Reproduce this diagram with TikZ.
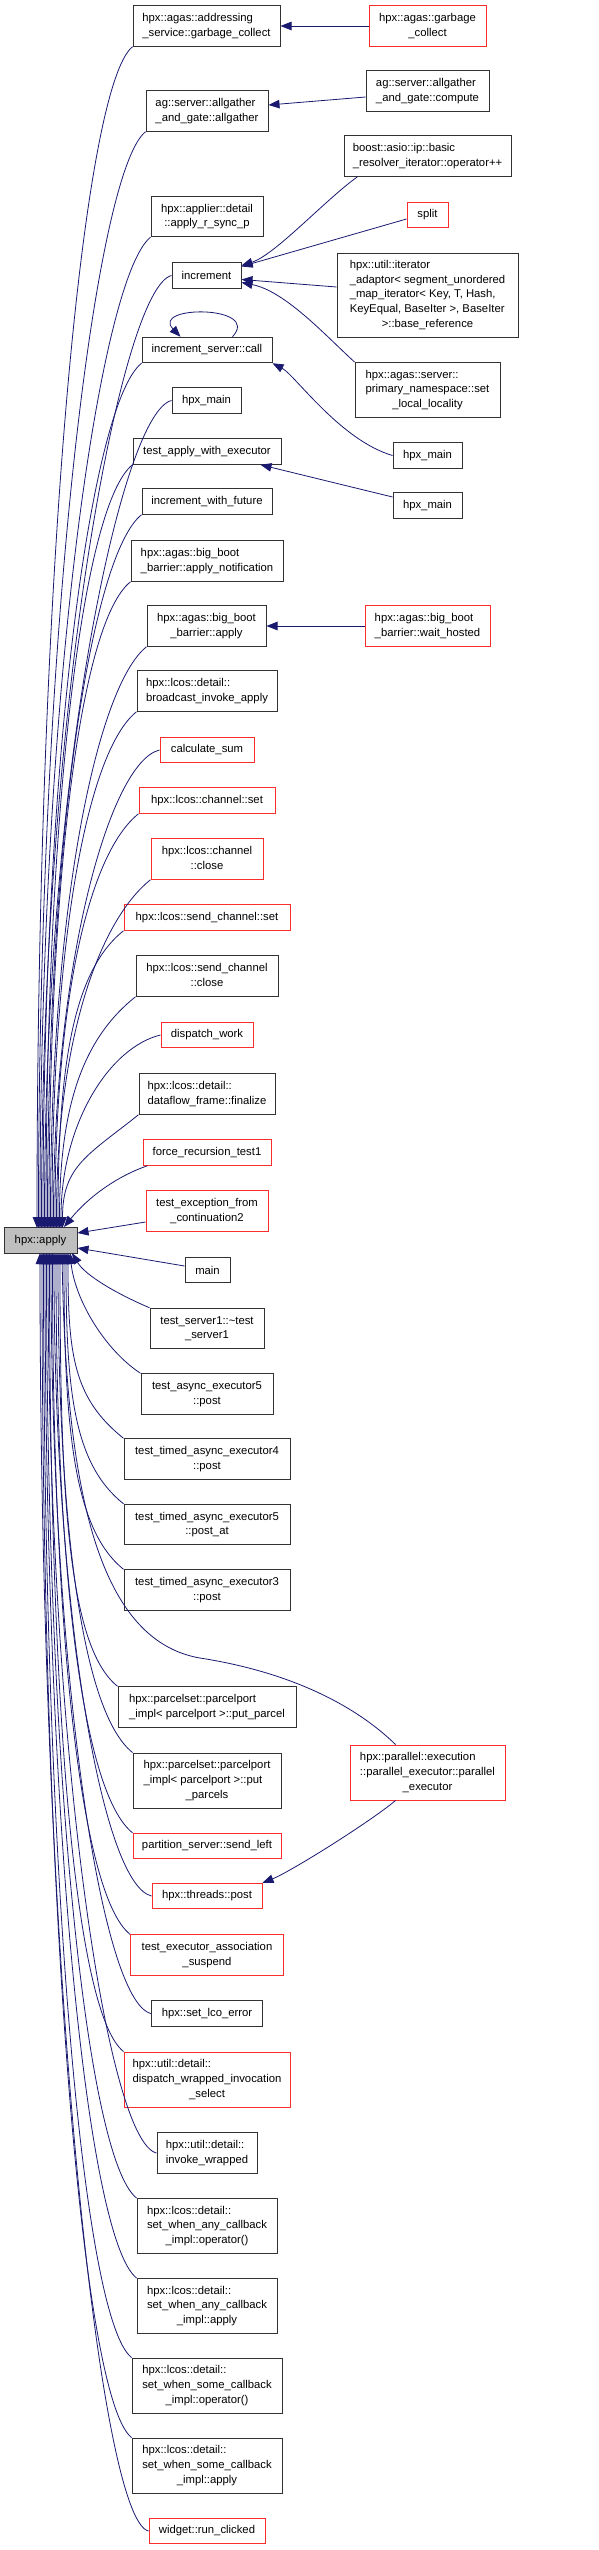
\documentclass[tikz,border=0pt]{standalone}
\usepackage{fontspec}
\setmainfont{Liberation Sans}
\usepackage{tikz}
\usetikzlibrary{arrows.meta,calc}
\usepackage{xcolor}
\definecolor{edgeblue}{RGB}{25,25,112}
\definecolor{nodered}{RGB}{250,45,45}
\definecolor{nodeline}{RGB}{50,50,50}
\definecolor{rootgray}{RGB}{191,191,191}
% left-aligned lines, last one centred (doxygen label)
\newcommand{\fnlabel}[2]{\begin{tabular}{@{}l@{}}#1\\\multicolumn{1}{@{}c@{}}{#2}\end{tabular}}

\begin{document}
\begin{tikzpicture}[x=1pt,y=1pt,>={Triangle[length=11pt,width=8.5pt]},
  fn/.style={draw=nodeline,line width=1pt,fill=white,inner xsep=2pt,inner ysep=2pt,
             minimum height=25.5pt,minimum width=#1,
             font=\fontsize{11.3pt}{14.7pt}\selectfont},
  fnr/.style={fn=#1,draw=nodered},
  twoline/.style={minimum height=40.5pt},
  threeline/.style={minimum height=55pt},
  call/.style={<-,draw=edgeblue,line width=0.8pt}]

  \useasboundingbox (0,0) rectangle (599,-2550);

  % ── callers, middle column ───────────────────────────────────────
  \node[fn=147pt,twoline] (gcs) at (206.5,-26)
    {\fnlabel{hpx::agas::addressing}{\_service::garbage\_collect}};
  \node[fn=122pt,twoline] (allg) at (207,-111)
    {\fnlabel{ag::server::allgather}{\_and\_gate::allgather}};
  \node[fn=112pt,twoline] (applyr) at (207,-216.5)
    {\fnlabel{hpx::applier::detail}{::apply\_r\_sync\_p}};
  \node[fn=69pt] (incr) at (206.5,-275.5) {increment};
  \node[fn=130pt] (incsrv) at (207,-350) {increment\_server::call};
  \node[fn=69pt] (hpxmain1) at (206.5,-400.5) {hpx\_main};
  \node[fn=148pt] (tawe) at (207,-451.5) {test\_apply\_with\_executor};
  \node[fn=130pt] (incfut) at (207,-501.5) {increment\_with\_future};
  \node[fn=152pt,twoline] (applynot) at (207,-561)
    {\fnlabel{hpx::agas::big\_boot}{\_barrier::apply\_notification}};
  \node[fn=119pt,twoline] (bbapply) at (206.5,-626)
    {\fnlabel{hpx::agas::big\_boot}{\_barrier::apply}};
  \node[fn=140pt,twoline] (bcast) at (207,-691)
    {\fnlabel{hpx::lcos::detail::}{broadcast\_invoke\_apply}};
  \node[fnr=94pt] (calcsum) at (207,-750) {calculate\_sum};
  \node[fnr=136pt] (chanset) at (207,-800.5) {hpx::lcos::channel::set};
  \node[fnr=112pt,twoline] (chanclose) at (207,-859)
    {\fnlabel{hpx::lcos::channel}{::close}};
  \node[fnr=166pt] (sendset) at (207,-917.5) {hpx::lcos::send\_channel::set};
  \node[fn=142pt,twoline] (sendclose) at (207,-976)
    {\fnlabel{hpx::lcos::send\_channel}{::close}};
  \node[fnr=92pt] (dispatch) at (207,-1035) {dispatch\_work};
  \node[fn=136pt,twoline] (dataflow) at (207,-1094)
    {\fnlabel{hpx::lcos::detail::}{dataflow\_frame::finalize}};
  \node[fnr=128pt] (force) at (207,-1152.5) {force\_recursion\_test1};
  \node[fnr=122pt,twoline] (testexc) at (207,-1211)
    {\fnlabel{test\_exception\_from}{\_continuation2}};

  % root
  \node[fn=73pt,fill=rootgray] (apply) at (40.5,-1240.5) {hpx::apply};

  \node[fn=45pt] (main) at (207.5,-1270) {main};
  \node[fn=114pt,twoline] (tserver) at (207,-1328.5)
    {\fnlabel{test\_server1::\textasciitilde test}{\_server1}};
  \node[fn=132pt,twoline] (async5) at (207,-1394)
    {\fnlabel{test\_async\_executor5}{::post}};
  \node[fn=166pt,twoline] (timed4) at (207,-1459)
    {\fnlabel{test\_timed\_async\_executor4}{::post}};
  \node[fn=166pt,twoline] (timed5) at (207,-1524.5)
    {\fnlabel{test\_timed\_async\_executor5}{::post\_at}};
  \node[fn=166pt,twoline] (timed3) at (207,-1590)
    {\fnlabel{test\_timed\_async\_executor3}{::post}};
  \node[fn=178pt,twoline] (putparcel) at (207,-1707)
    {\fnlabel{hpx::parcelset::parcelport}{\_impl< parcelport >::put\_parcel}};
  \node[fn=148pt,threeline] (putparcels) at (207,-1780.5)
    {\fnlabel{hpx::parcelset::parcelport\\\_impl< parcelport >::put}{\_parcels}};
  \node[fnr=148pt] (sendleft) at (207,-1846) {partition\_server::send\_left};
  \node[fnr=110pt] (thpost) at (207,-1896) {hpx::threads::post};
  \node[fnr=153pt,twoline] (execassoc) at (207,-1955)
    {\fnlabel{test\_executor\_association}{\_suspend}};
  \node[fn=111pt] (setlco) at (207,-2013.5) {hpx::set\_lco\_error};
  \node[fnr=166pt,threeline] (dispwrap) at (207,-2079.5)
    {\fnlabel{hpx::util::detail::\\dispatch\_wrapped\_invocation}{\_select}};
  \node[fn=100pt,twoline,align=left] (invwrap) at (207,-2153)
    {hpx::util::detail::\\invoke\_wrapped};
  \node[fn=140pt,threeline] (anyop) at (207,-2226)
    {\fnlabel{hpx::lcos::detail::\\set\_when\_any\_callback}{\_impl::operator()}};
  \node[fn=140pt,threeline] (anyapply) at (207,-2306)
    {\fnlabel{hpx::lcos::detail::\\set\_when\_any\_callback}{\_impl::apply}};
  \node[fn=150pt,threeline] (someop) at (207,-2385.5)
    {\fnlabel{hpx::lcos::detail::\\set\_when\_some\_callback}{\_impl::operator()}};
  \node[fn=150pt,threeline] (someapply) at (207,-2465.5)
    {\fnlabel{hpx::lcos::detail::\\set\_when\_some\_callback}{\_impl::apply}};
  \node[fnr=116pt] (widget) at (207,-2531) {widget::run\_clicked};

  % ── callers, right column ────────────────────────────────────────
  \node[fnr=117pt,twoline] (gcc) at (427.5,-26)
    {\fnlabel{hpx::agas::garbage}{\_collect}};
  \node[fn=123pt,twoline] (compute) at (427.5,-91)
    {\fnlabel{ag::server::allgather}{\_and\_gate::compute}};
  \node[fn=167pt,twoline] (boost) at (427.5,-156)
    {\fnlabel{boost::asio::ip::basic}{\_resolver\_iterator::operator++}};
  \node[fnr=41pt] (split) at (427.5,-215) {split};
  \node[fn=181pt,minimum height=84pt] (iter) at (427.5,-295)
    {\fnlabel{hpx::util::iterator\\\_adaptor< segment\_unordered\\\_map\_iterator< Key, T, Hash,\\KeyEqual, BaseIter >, BaseIter}{>::base\_reference}};
  \node[fn=145pt,threeline] (primns) at (427.5,-390)
    {\fnlabel{hpx::agas::server::\\primary\_namespace::set}{\_local\_locality}};
  \node[fn=69pt] (hpxmainA) at (427.5,-455.5) {hpx\_main};
  \node[fn=69pt] (hpxmainB) at (427.5,-505.5) {hpx\_main};
  \node[fnr=125pt,twoline] (waith) at (427.5,-626)
    {\fnlabel{hpx::agas::big\_boot}{\_barrier::wait\_hosted}};
  \node[fnr=155pt,threeline] (parexec) at (427.5,-1772.5)
    {\fnlabel{hpx::parallel::execution\\::parallel\_executor::parallel}{\_executor}};

  % ── calls between the columns ────────────────────────────────────
  \draw[call] (gcs.east) -- (gcc.west);
  \draw[call] ($(allg.east)+(0,6)$) -- ($(compute.west)+(0,-6)$);
  \draw[call] ($(incr.east)+(0,10)$) .. controls (275,-255) and (325,-200) .. ($(boost.south west)+(14,0)$);
  \draw[call] ($(incr.east)+(0,9)$) -- ($(split.west)+(0,-4)$);
  \draw[call] ($(incr.east)+(0,-4)$) -- ($(iter.west)+(0,8)$);
  \draw[call] ($(incr.east)+(0,-7)$) .. controls (285,-291) and (325,-335) .. (primns.north west);
  \draw[call] ($(incsrv.north west)+(39,0)$) .. controls (150,-305) and (262,-305) .. ($(incsrv.north west)+(91,0)$);
  \draw[call] (incsrv.south east) .. controls (295,-375) and (340,-440) .. (hpxmainA.west);
  \draw[call] ($(tawe.south east)+(-21,0)$) -- ($(hpxmainB.west)+(0,8.5)$);
  \draw[call] (bbapply.east) -- (waith.west);
  \draw[call] (thpost.north east) .. controls (290,-1872) and (370,-1822) .. ($(parexec.south west)+(46,0)$);

  % ── calls into hpx::apply from above ─────────────────────────────
  \foreach \nm/\ax in {gcs/37, allg/38.5, applyr/40, incsrv/43, tawe/46, incfut/47.5,
                       applynot/49, bbapply/50.5, bcast/52, chanset/55, chanclose/56.5,
                       sendset/58, sendclose/59.5, dataflow/62.5}
    \draw[call] let \p1=(\nm.south west), \n1={0.55*(\y1)-0.45*1228} in
      (\ax,-1228) .. controls (\ax,\n1) and ($(\p1)+(-50,-40)$) .. (\p1);
  \foreach \nm/\ax in {incr/41.5, hpxmain1/44.5, calcsum/53.5, dispatch/61}
    \draw[call] let \p1=(\nm.west), \n1={0.55*(\y1)-0.45*1228} in
      (\ax,-1228) .. controls (\ax,\n1) and ($(\p1)+(-50,-12)$) .. (\p1);
  \draw[call] (64,-1227) .. controls (90,-1195) and (120,-1175) .. ($(force.south west)+(5,0)$);

  % from the right
  \draw[call] ($(apply.east)+(0,7.5)$) -- ($(testexc.west)+(0,-11)$);
  \draw[call] ($(apply.east)+(0,-7.5)$) -- ($(main.west)+(0,4)$);

  % ── calls into hpx::apply from below ─────────────────────────────
  \draw[call] (72,-1253) .. controls (85,-1275) and (115,-1293) .. (tserver.north west);
  \draw[call] (70,-1253) .. controls (75,-1300) and (105,-1350) .. (async5.north west);
  \foreach \nm/\ax in {timed4/68, timed5/66, timed3/64, putparcel/60, putparcels/58,
                       sendleft/56, execassoc/52.5, dispwrap/49.5, anyop/46.5,
                       anyapply/45, someop/43.5, someapply/42}
    \draw[call] let \p1=(\nm.north west), \n1={0.55*(\y1)-0.45*1253} in
      (\ax,-1253) .. controls (\ax,\n1) and ($(\p1)+(-50,40)$) .. (\p1);
  \foreach \nm/\ax in {thpost/54, setlco/51, invwrap/48, widget/40}
    \draw[call] let \p1=(\nm.west), \n1={0.55*(\y1)-0.45*1253} in
      (\ax,-1253) .. controls (\ax,\n1) and ($(\p1)+(-50,12)$) .. (\p1);
  \draw[call] (62,-1253) .. controls (66,-1480) and (95,-1640) .. (200,-1658)
    .. controls (290,-1672) and (355,-1705) .. ($(parexec.north west)+(46,0)$);

\end{tikzpicture}
\end{document}
